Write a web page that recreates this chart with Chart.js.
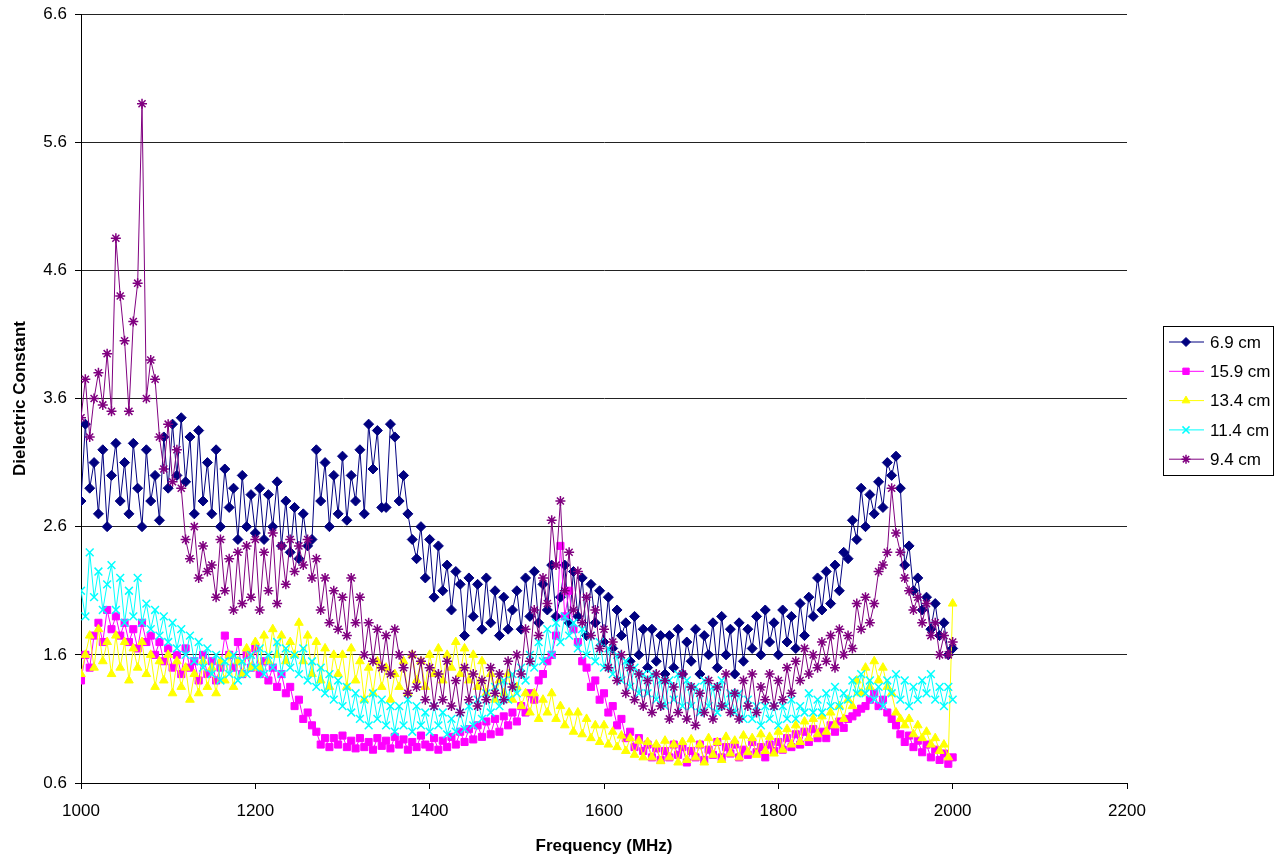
<!DOCTYPE html>
<html>
<head>
<meta charset="utf-8">
<script src="https://cdn.jsdelivr.net/npm/chart.js@4.4.1/dist/chart.umd.min.js"></script>
<style>
html, body { margin: 0; padding: 0; background: #fff; }
#wrap { position: relative; width: 1285px; height: 863px; }
</style>
</head>
<body>
<div id="wrap"><canvas id="chart"></canvas></div>
<script>
// frequency grid, 5 MHz steps from 1000 to 2000
const freq = [];
for (let f = 1000; f <= 2000; f += 5) freq.push(f);

const yTicks = [0.6, 1.6, 2.6, 3.6, 4.6, 5.6, 6.6];

// 6.9 cm
const depth69 = [
  2.8, 3.4, 2.9, 3.1, 2.7, 3.2, 2.6, 3.0, 3.25, 2.8,
  3.1, 2.7, 3.25, 2.9, 2.6, 3.2, 2.8, 3.0, 2.65, 3.3,
  2.9, 3.4, 3.0, 3.45, 2.95, 3.3, 2.7, 3.35, 2.8, 3.1,
  2.7, 3.2, 2.6, 3.05, 2.75, 2.9, 2.5, 3.0, 2.6, 2.85,
  2.55, 2.9, 2.5, 2.85, 2.6, 2.95, 2.45, 2.8, 2.4, 2.75,
  2.35, 2.7, 2.45, 2.5, 3.2, 2.8, 3.1, 2.6, 3.0, 2.7,
  3.15, 2.65, 3.0, 2.8, 3.2, 2.7, 3.4, 3.05, 3.35, 2.75,
  2.75, 3.4, 3.3, 2.8, 3.0, 2.7, 2.5, 2.35, 2.6, 2.2,
  2.5, 2.05, 2.45, 2.1, 2.3, 1.95, 2.25, 2.15, 1.75, 2.2,
  1.9, 2.15, 1.8, 2.2, 1.85, 2.1, 1.75, 2.05, 1.8, 1.95,
  2.1, 1.8, 2.2, 1.9, 2.25, 1.85, 2.15, 1.95, 2.3, 1.9,
  2.05, 2.3, 1.85, 2.25, 1.9, 2.2, 1.75, 2.15, 1.85, 2.1,
  1.7, 2.05, 1.65, 1.95, 1.75, 1.85, 1.55, 1.9, 1.6, 1.8,
  1.5, 1.8, 1.55, 1.75, 1.45, 1.75, 1.5, 1.8, 1.45, 1.7,
  1.55, 1.8, 1.45, 1.75, 1.6, 1.85, 1.5, 1.9, 1.6, 1.8,
  1.45, 1.85, 1.55, 1.8, 1.65, 1.9, 1.6, 1.95, 1.7, 1.85,
  1.6, 1.95, 1.7, 1.9, 1.65, 2.0, 1.75, 2.05, 1.9, 2.2,
  1.95, 2.25, 2.0, 2.3, 2.1, 2.4, 2.35, 2.65, 2.5, 2.9,
  2.6, 2.85, 2.7, 2.95, 2.75, 3.1, 3.0, 3.15, 2.9, 2.3,
  2.45, 2.1, 2.2, 1.95, 2.05, 1.8, 2.0, 1.75, 1.85, 1.6,
  1.65
];

// 15.9 cm
const depth159 = [
  1.4, 1.6, 1.5, 1.75, 1.85, 1.7, 1.95, 1.8, 1.9, 1.75,
  1.85, 1.7, 1.8, 1.65, 1.85, 1.7, 1.75, 1.6, 1.7, 1.55,
  1.65, 1.5, 1.6, 1.45, 1.65, 1.5, 1.55, 1.4, 1.6, 1.45,
  1.55, 1.4, 1.5, 1.75, 1.6, 1.5, 1.7, 1.45, 1.6, 1.5,
  1.65, 1.45, 1.55, 1.4, 1.5, 1.35, 1.45, 1.3, 1.35, 1.2,
  1.25, 1.1, 1.15, 1.05, 1.0, 0.9, 0.95, 0.88, 0.95, 0.9,
  0.97, 0.88, 0.93, 0.87, 0.95, 0.88, 0.92, 0.86, 0.95, 0.89,
  0.93, 0.87, 0.96, 0.9, 0.94, 0.86, 0.92, 0.88, 0.97, 0.9,
  0.88, 0.95, 0.86, 0.93, 0.88, 0.96, 0.9, 1.0, 0.92, 1.02,
  0.94, 1.05, 0.96, 1.08, 0.98, 1.1, 1.0, 1.12, 1.05, 1.15,
  1.08, 1.2, 1.15, 1.3, 1.25, 1.4, 1.45, 1.55, 1.6, 1.75,
  2.45, 1.9, 2.1, 1.8, 1.7, 1.55, 1.5, 1.35, 1.4, 1.25,
  1.3, 1.15, 1.2, 1.05, 1.1, 0.95, 1.0, 0.88, 0.95, 0.85,
  0.9, 0.8, 0.87, 0.78, 0.85, 0.8, 0.9, 0.82, 0.88, 0.76,
  0.85, 0.8, 0.9, 0.78, 0.86, 0.82, 0.92, 0.8, 0.88, 0.83,
  0.9, 0.8, 0.86, 0.82, 0.92, 0.84, 0.88, 0.8, 0.9, 0.85,
  0.92, 0.86, 0.95, 0.88, 0.98, 0.9, 1.0, 0.92, 1.02, 0.95,
  1.0, 0.95, 1.05, 1.0, 1.08, 1.03, 1.1, 1.12, 1.15, 1.18,
  1.2, 1.25, 1.3, 1.2, 1.25, 1.15, 1.1, 1.05, 0.98, 0.92,
  0.97, 0.88, 0.93, 0.84, 0.9, 0.8, 0.86, 0.78, 0.83, 0.75,
  0.8
];

// 13.4 cm
const depth134 = [
  1.45, 1.6, 1.75, 1.5, 1.8, 1.55, 1.7, 1.45, 1.75, 1.5,
  1.7, 1.4, 1.65, 1.5, 1.7, 1.45, 1.6, 1.35, 1.55, 1.4,
  1.6, 1.3, 1.55, 1.35, 1.5, 1.25, 1.45, 1.3, 1.55, 1.35,
  1.5, 1.3, 1.55, 1.4, 1.6, 1.35, 1.55, 1.45, 1.65, 1.5,
  1.7, 1.5, 1.75, 1.55, 1.8, 1.6, 1.75, 1.55, 1.7, 1.6,
  1.85, 1.55, 1.75, 1.45, 1.7, 1.4, 1.65, 1.35, 1.6, 1.45,
  1.6, 1.35, 1.65, 1.4, 1.55, 1.25, 1.5, 1.3, 1.55, 1.35,
  1.5, 1.25, 1.45, 1.35, 1.55, 1.3, 1.6, 1.4, 1.55, 1.35,
  1.6, 1.45, 1.65, 1.4, 1.6, 1.5, 1.7, 1.45, 1.65, 1.4,
  1.6, 1.35, 1.55, 1.3, 1.45, 1.25, 1.4, 1.3, 1.45, 1.25,
  1.35, 1.2, 1.3, 1.15, 1.3, 1.1, 1.25, 1.15, 1.3, 1.1,
  1.2, 1.05, 1.15, 1.0, 1.15, 0.98, 1.1, 0.95, 1.05, 0.92,
  1.05, 0.9, 1.0, 0.88, 0.97, 0.85, 0.95, 0.82, 0.93, 0.8,
  0.92, 0.8, 0.9, 0.77, 0.93, 0.8, 0.9, 0.76, 0.92, 0.78,
  0.94, 0.8, 0.9, 0.76, 0.95, 0.82, 0.92, 0.78, 0.96, 0.83,
  0.93, 0.8, 0.97, 0.84, 0.95, 0.82, 0.98, 0.85, 0.96, 0.83,
  1.0, 0.86, 1.02, 0.9, 1.05, 0.92, 1.08, 0.95, 1.1, 0.98,
  1.12, 1.0, 1.15, 1.05, 1.2, 1.1, 1.25, 1.2, 1.4, 1.3,
  1.5, 1.35, 1.55, 1.4, 1.5, 1.35, 1.3, 1.15, 1.1, 1.05,
  1.1, 0.98, 1.05, 0.95, 1.0, 0.9, 0.95, 0.85, 0.9, 0.8,
  2.0
];

// 11.4 cm
const depth114 = [
  2.1, 1.9, 2.4, 2.05, 2.25, 1.95, 2.15, 2.3, 1.95, 2.2,
  1.85, 2.1, 1.9, 2.2, 1.85, 2.0, 1.8, 1.95, 1.75, 1.9,
  1.7, 1.85, 1.65, 1.8, 1.6, 1.75, 1.55, 1.7, 1.5, 1.65,
  1.45, 1.6, 1.4, 1.55, 1.45, 1.6, 1.4, 1.55, 1.45, 1.6,
  1.5, 1.65, 1.45, 1.6, 1.5, 1.7, 1.45, 1.65, 1.5, 1.6,
  1.45, 1.65, 1.4, 1.55, 1.35, 1.5, 1.3, 1.45, 1.25, 1.4,
  1.2, 1.35, 1.15, 1.3, 1.1, 1.25, 1.05, 1.3, 1.1, 1.25,
  1.05, 1.2, 1.0, 1.2, 1.05, 1.25, 1.0, 1.2, 1.05, 1.15,
  1.0, 1.2, 1.05, 1.15, 0.98, 1.1, 1.0, 1.15, 1.02, 1.2,
  1.05, 1.25, 1.1, 1.3, 1.15, 1.35, 1.2, 1.4, 1.25, 1.45,
  1.3, 1.5, 1.4, 1.6, 1.5, 1.7, 1.55, 1.8, 1.6, 1.85,
  1.7, 1.9, 1.75, 1.85, 1.65, 1.8, 1.6, 1.75, 1.55, 1.7,
  1.5, 1.65, 1.45, 1.6, 1.4, 1.55, 1.35, 1.5, 1.3, 1.45,
  1.3, 1.45, 1.25, 1.4, 1.2, 1.4, 1.25, 1.45, 1.2, 1.4,
  1.2, 1.35, 1.15, 1.4, 1.2, 1.35, 1.15, 1.4, 1.2, 1.3,
  1.15, 1.3, 1.1, 1.25, 1.1, 1.2, 1.05, 1.2, 1.1, 1.2,
  1.05, 1.2, 1.1, 1.25, 1.1, 1.2, 1.15, 1.3, 1.15, 1.25,
  1.15, 1.3, 1.2, 1.35, 1.2, 1.3, 1.25, 1.4, 1.3, 1.45,
  1.3, 1.4, 1.25, 1.35, 1.2, 1.4, 1.3, 1.45, 1.25, 1.4,
  1.2, 1.35, 1.25, 1.4, 1.3, 1.45, 1.25, 1.35, 1.2, 1.35,
  1.25
];

// 9.4 cm
const depth94 = [
  3.45, 3.75, 3.3, 3.6, 3.8, 3.55, 3.95, 3.5, 4.85, 4.4,
  4.05, 3.5, 4.2, 4.5, 5.9, 3.6, 3.9, 3.75, 3.3, 3.05,
  3.4, 2.95, 3.2, 2.9, 2.5, 2.35, 2.6, 2.2, 2.45, 2.25,
  2.3, 2.05, 2.5, 2.1, 2.35, 1.95, 2.4, 2.0, 2.45, 2.05,
  2.5, 1.95, 2.4, 2.1, 2.55, 2.0, 2.45, 2.15, 2.5, 2.25,
  2.45, 2.3, 2.5, 2.2, 2.35, 1.95, 2.2, 1.85, 2.1, 1.8,
  2.05, 1.75, 2.2, 1.85, 2.05, 1.6, 1.85, 1.55, 1.8, 1.5,
  1.75, 1.45, 1.8, 1.6, 1.5, 1.3, 1.6, 1.35, 1.55, 1.25,
  1.5, 1.2, 1.45, 1.25, 1.55, 1.2, 1.4, 1.15, 1.5, 1.25,
  1.45, 1.2, 1.4, 1.25, 1.5, 1.3, 1.45, 1.25, 1.55, 1.35,
  1.6, 1.45, 1.8, 1.55, 1.95, 1.75, 2.2, 2.0, 2.65, 2.3,
  2.8, 2.1, 2.4, 1.95, 2.25, 1.85, 2.05, 1.75, 1.95, 1.65,
  1.8, 1.5, 1.7, 1.4, 1.6, 1.3, 1.5, 1.25, 1.45, 1.2,
  1.4, 1.15, 1.45, 1.2, 1.4, 1.1, 1.35, 1.15, 1.45, 1.1,
  1.35, 1.05, 1.3, 1.15, 1.4, 1.1, 1.35, 1.2, 1.45, 1.15,
  1.3, 1.1, 1.4, 1.2, 1.45, 1.15, 1.35, 1.25, 1.45, 1.2,
  1.4, 1.25, 1.5, 1.3, 1.55, 1.4, 1.65, 1.45, 1.6, 1.5,
  1.7, 1.55, 1.75, 1.5, 1.8, 1.6, 1.75, 1.65, 2.0, 1.8,
  2.05, 1.85, 2.0, 2.25, 2.3, 2.4, 2.9, 2.55, 2.4, 2.2,
  2.1, 1.95, 2.05, 1.85, 2.0, 1.75, 1.85, 1.6, 1.75, 1.6,
  1.7
];

const seriesNames = ['6.9 cm', '15.9 cm', '13.4 cm', '11.4 cm', '9.4 cm'];
const seriesValues = [depth69, depth159, depth134, depth114, depth94];
const seriesColors = ['#000080', '#ff00ff', '#ffff00', '#00ffff', '#800080'];
const seriesMarkers = ['rectRot', 'rect', 'triangle', 'crossRot', 'star'];
const markerSizes = [5, 5, 5, 5.5, 5];
const markerBorders = [1, 1, 1, 1.5, 1.5];

Chart.defaults.font.family = '"Liberation Sans", Arial, Helvetica, sans-serif';
Chart.defaults.font.size = 17;
Chart.defaults.color = '#000';

// legend box drawn on the right like the original
const sideLegend = {
  id: 'sideLegend',
  afterDraw(chart) {
    const ctx = chart.ctx;
    ctx.save();
    ctx.strokeStyle = '#000';
    ctx.lineWidth = 1;
    ctx.strokeRect(1163.5, 326.5, 110, 149);
    chart.data.datasets.forEach((ds, i) => {
      const y = 342 + i * 29.3;
      ctx.strokeStyle = ds.borderColor;
      ctx.lineWidth = 1;
      ctx.beginPath();
      ctx.moveTo(1169, y);
      ctx.lineTo(1204, y);
      ctx.stroke();
      ctx.fillStyle = ds.pointBackgroundColor;
      ctx.lineWidth = ds.pointBorderWidth;
      Chart.helpers.drawPoint(ctx, {
        pointStyle: ds.pointStyle, radius: ds.pointRadius - 0.5,
        borderWidth: ds.pointBorderWidth, rotation: 0
      }, 1186, y);
      ctx.fillStyle = '#000';
      ctx.font = '17px "Liberation Sans", Arial, sans-serif';
      ctx.textBaseline = 'middle';
      ctx.textAlign = 'left';
      ctx.fillText(ds.label, 1210, y + 1);
    });
    ctx.restore();
  }
};

const ctx = document.getElementById('chart').getContext('2d');
const chart = new Chart(ctx, {
  type: 'line',
  data: {
    datasets: seriesNames.map((name, s) => ({
      label: name,
      data: freq.map((f, i) => ({ x: f, y: seriesValues[s][i] })),
      borderColor: seriesColors[s],
      backgroundColor: seriesColors[s],
      pointBackgroundColor: seriesColors[s],
      pointBorderColor: seriesColors[s],
      pointStyle: seriesMarkers[s],
      pointRadius: markerSizes[s],
      pointBorderWidth: markerBorders[s],
      borderWidth: 1,
      tension: 0,
      fill: false,
      order: seriesNames.length - s,
    })),
  },
  options: {
    responsive: true,
    maintainAspectRatio: false,
    animation: false,
    layout: { padding: { left: 0, right: 158, top: 14, bottom: 0 } },
    plugins: {
      legend: { display: false },
      tooltip: { enabled: false },
    },
    scales: {
      x: {
        type: 'linear',
        min: 1000,
        max: 2200,
        ticks: { stepSize: 200, padding: 12, maxRotation: 0, callback: v => String(v) },
        grid: { drawOnChartArea: false, drawTicks: true, tickLength: 6, tickColor: '#000' },
        border: { display: true, color: '#000', width: 1 },
        title: {
          display: true,
          text: 'Frequency (MHz)',
          font: { size: 17, weight: 'bold' },
          padding: { top: 0, bottom: 6 },
        },
        afterFit(scale) { scale.height = 80; },
      },
      y: {
        min: 0.6,
        max: 6.6,
        afterBuildTicks(scale) { scale.ticks = yTicks.map(v => ({ value: v })); },
        ticks: { padding: 8, callback: v => v.toFixed(1) },
        grid: { color: '#222', lineWidth: 1, drawTicks: true, tickLength: 6, tickColor: '#000' },
        border: { display: true, color: '#000', width: 1 },
        title: {
          display: true,
          text: 'Dielectric Constant',
          font: { size: 17, weight: 'bold' },
          padding: { top: 10, bottom: 0 },
        },
        afterFit(scale) {
          scale.width = 81;
          scale.paddingTop = 4;
          scale.paddingBottom = 4;
        },
      },
    },
  },
  plugins: [sideLegend],
});
</script>
</body>
</html>
